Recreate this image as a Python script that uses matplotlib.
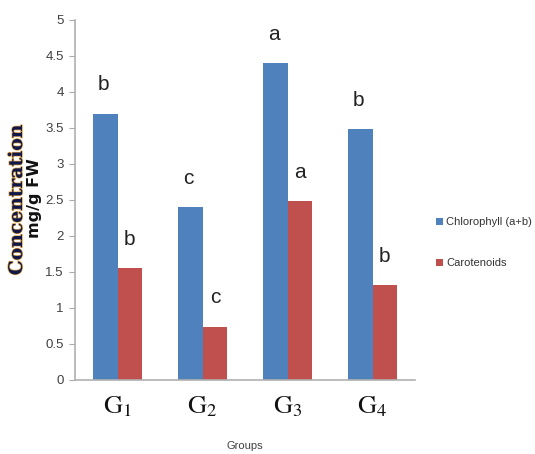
import matplotlib
matplotlib.use("Agg")
import matplotlib.pyplot as plt
import numpy as np
import matplotlib.patheffects as pe

groups = ["1", "2", "3", "4"]
chlorophyll = [3.70, 2.40, 4.40, 3.48]
carotenoids = [1.55, 0.74, 2.48, 1.32]
chl_letters = ["b", "c", "a", "b"]
car_letters = ["b", "c", "a", "b"]
yticks = [0, 0.5, 1, 1.5, 2, 2.5, 3, 3.5, 4, 4.5, 5]
ytick_labels = ["0", "0.5", "1", "1.5", "2", "2.5", "3", "3.5", "4", "4.5", "5"]

blue = "#4F81BD"
red = "#C0504D"
narrow = ["Liberation Sans Narrow", "Liberation Sans", "DejaVu Sans"]

plt.rcParams["mathtext.fontset"] = "stix"

fig = plt.figure(figsize=(5.35, 4.54), dpi=100)
ax = fig.add_axes([75/535, 1-380/454, 340/535, 360/454])

x = np.arange(len(groups))
w = 0.29
b1 = ax.bar(x - w/2, chlorophyll, w, color=blue, label="Chlorophyll (a+b)")
b2 = ax.bar(x + w/2, carotenoids, w, color=red, label="Carotenoids")

for xi, v, t in zip(x, chlorophyll, chl_letters):
    ax.text(xi - w/2 - 0.02, v + 0.40, t, ha="center", va="center", fontsize=15,
            family=narrow, color="#222222")
for xi, v, t in zip(x, carotenoids, car_letters):
    ax.text(xi + w/2, v + 0.40, t, ha="center", va="center", fontsize=15,
            family=narrow, color="#222222")

ax.set_xlim(-0.5, 3.5)
ax.set_ylim(0, 5)
ax.set_yticks(yticks)
ax.set_yticklabels(ytick_labels, family=narrow, fontsize=9.5, color="#404040")
ax.set_xticks(x)
ax.set_xticklabels([r"$\mathrm{G}_{%s}$" % g for g in groups], fontsize=19, color="#111111")
ax.tick_params(axis="x", length=0, pad=10)
ax.tick_params(axis="y", length=4, color="#aaaaaa", pad=4)
for s in ["top", "right"]:
    ax.spines[s].set_visible(False)
for s in ["left", "bottom"]:
    ax.spines[s].set_color("#b0b0b0")
    ax.spines[s].set_linewidth(1.2)

fig.text(245/535, 1-446/454, "Groups", ha="center", va="center", fontsize=8,
         family=narrow, color="#404040")
t1 = fig.text(17/535, 1-200/454, "Concentration", rotation=90, ha="center", va="center",
              fontsize=13.5, family="DejaVu Serif", weight="bold", color="#10184a")
t1.set_path_effects([pe.withStroke(linewidth=1.0, foreground="#e0a040")])
fig.text(34/535, 1-198/454, "mg/g FW", rotation=90, ha="center", va="center",
         fontsize=11.5, family="DejaVu Sans", weight="bold", color="#111111")

leg = fig.legend(handles=[b1, b2], loc="upper left", bbox_to_anchor=(432/535, 1-213/454),
                 frameon=False, prop={"family": narrow, "size": 8}, handlelength=0.6,
                 handleheight=0.6, handletextpad=0.3, labelspacing=2.75, borderaxespad=0)
for t in leg.get_texts():
    t.set_color("#333333")

fig.savefig("out.png", dpi=100)
